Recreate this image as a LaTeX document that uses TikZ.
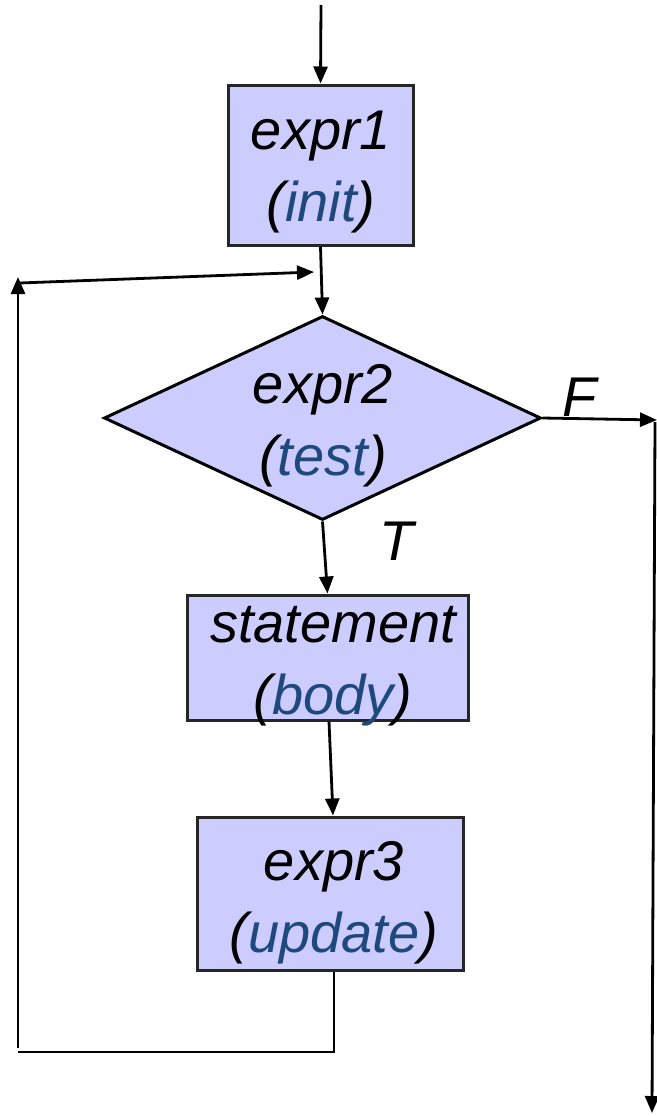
\documentclass[tikz,border=0pt]{standalone}
\usepackage{fontspec}
\setmainfont{Liberation Sans}
\usetikzlibrary{shapes.geometric,arrows.meta}
\definecolor{boxfill}{RGB}{204,204,255}
\definecolor{lblue}{RGB}{31,73,125}
\begin{document}
\begin{tikzpicture}[x=1pt,y=-1pt,
  every node/.style={font=\fontsize{56}{72}\selectfont\itshape},
  procbox/.style={draw=black!85,line width=3pt,fill=boxfill,inner sep=0pt,align=center},
  decbox/.style={diamond,draw=black,line width=3pt,fill=boxfill,inner sep=0pt},
  textlbl/.style={align=center,inner sep=0pt},
  conn/.style={line width=2.8pt,-{Triangle[length=17pt,width=14pt]}},
  plain/.style={line width=2.8pt}]
\useasboundingbox (0,0) rectangle (656,1116);
\coordinate (start) at (321,5);
\node[procbox,minimum width=185pt,minimum height=160pt] (b1) at (320.5,165) {};
\node[textlbl] (t1) at (321,172) {expr1\\(\textcolor{lblue}{init})};
\node[decbox,minimum width=437pt,minimum height=204pt] (d) at (322.5,418) {};
\node[textlbl] (dtext) at (323,426) {expr2\\(\textcolor{lblue}{test})};
\node[procbox,minimum width=281pt,minimum height=125pt] (b2) at (327.5,657.5) {};
\node[textlbl] (t2) at (333,666) {statement\\(\textcolor{lblue}{body})};
\node[procbox,minimum width=266pt,minimum height=153pt] (b3) at (330,893.5) {};
\node[textlbl] (t3) at (334,903) {expr3\\(\textcolor{lblue}{update})};
\node (F) at (580,397) {F};
\node (T) at (397,541) {T};
\coordinate (b3out) at (334,1052);
\coordinate (lb) at (18,1052);
\coordinate (lt) at (18,277);
\coordinate (lh) at (20,283);
\coordinate (join) at (314,272);
\coordinate (fr) at (657,420);
\coordinate (ftop) at (655,422);
\coordinate (fend) at (652,1113);
\draw[conn] (start) -- (b1.north);
\draw[conn] (b1.south) -- (d.north);
\draw[conn] (d.south) -- (b2.north);
\draw[conn] (b2.south -| 329,0) -- (b3.north -| 333,0);
\draw[plain] (b3.south -| b3out) -- (b3out) -- (lb);
\draw[conn] (18,1048) -- (lt);
\draw[conn] (lh) -- (join);
\draw[conn] (d.east) -- (fr);
\draw[conn] (ftop) -- (fend);
\end{tikzpicture}
\end{document}
